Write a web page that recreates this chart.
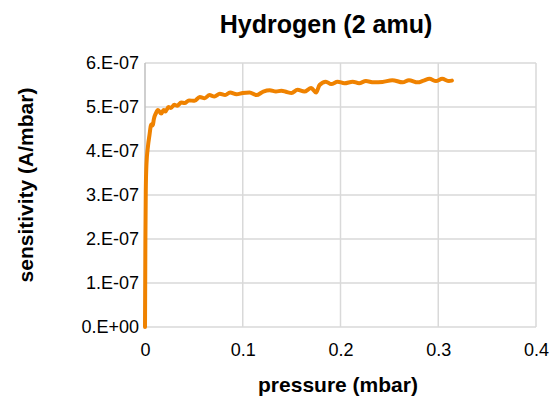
<!DOCTYPE html>
<html>
<head>
<meta charset="utf-8">
<script src="https://cdn.jsdelivr.net/npm/d3@7"></script>
<style>
  body { margin: 0; background: #fff; }
  text { font-family: "Liberation Sans", Arial, sans-serif; fill: #000; }
</style>
</head>
<body>
<div id="container"></div>
<script>
"use strict";

const width = 553;
const height = 399;
const margin = { top: 63, right: 17, bottom: 72, left: 145 };

const lineColor = "#ef8200";
const gridColor = "#d9d9d9";

// pressure (mbar)
const pressure = [
  0, 0.0004, 0.0008, 0.0015, 0.003, 0.0045, 0.0064, 0.008, 0.009, 0.011, 0.0133,
  0.0166, 0.019, 0.021, 0.024, 0.0265, 0.03, 0.033, 0.037, 0.0405, 0.045, 0.0507,
  0.056, 0.061, 0.066, 0.071, 0.0765, 0.082, 0.087, 0.0936, 0.1, 0.107, 0.114,
  0.121, 0.1276, 0.134, 0.1395, 0.145, 0.15, 0.156, 0.163, 0.17, 0.175, 0.1786,
  0.185, 0.1905, 0.197, 0.204, 0.2125, 0.219, 0.226, 0.234, 0.243, 0.253,
  0.2636, 0.27, 0.279, 0.285, 0.291, 0.2977, 0.304, 0.311, 0.314,
];

// sensitivity (A/mbar)
const sensitivity = [
  0, 2.0e-7, 3.1e-7, 3.7e-7, 4.1e-7, 4.35e-7, 4.6e-7, 4.58e-7, 4.72e-7, 4.85e-7, 4.93e-7,
  4.85e-7, 4.93e-7, 4.9e-7, 5.0e-7, 4.98e-7, 5.05e-7, 5.03e-7, 5.1e-7, 5.09e-7, 5.15e-7, 5.14e-7,
  5.23e-7, 5.2e-7, 5.27e-7, 5.24e-7, 5.3e-7, 5.27e-7, 5.33e-7, 5.29e-7, 5.32e-7, 5.33e-7, 5.27e-7,
  5.35e-7, 5.38e-7, 5.35e-7, 5.37e-7, 5.34e-7, 5.32e-7, 5.39e-7, 5.35e-7, 5.43e-7, 5.33e-7, 5.5e-7,
  5.575e-7, 5.52e-7, 5.575e-7, 5.54e-7, 5.575e-7, 5.54e-7, 5.59e-7, 5.56e-7, 5.57e-7, 5.61e-7,
  5.56e-7, 5.61e-7, 5.56e-7, 5.6e-7, 5.64e-7, 5.59e-7, 5.64e-7, 5.59e-7, 5.6e-7,
];

const xTicks = [0, 0.1, 0.2, 0.3, 0.4];
const yTicks = [0, 1e-7, 2e-7, 3e-7, 4e-7, 5e-7, 6e-7];
const yTickLabels = ["0.E+00", "1.E-07", "2.E-07", "3.E-07", "4.E-07", "5.E-07", "6.E-07"];

const data = pressure.map((p, i) => ({ p, s: sensitivity[i] }));

const xScale = d3
  .scaleLinear()
  .domain([0, 0.4])
  .range([margin.left, width - margin.right]);

const yScale = d3
  .scaleLinear()
  .domain([0, 6e-7])
  .range([height - margin.bottom, margin.top]);

const svg = d3
  .select("#container")
  .append("svg")
  .attr("width", width)
  .attr("height", height);

// grid
svg
  .append("g")
  .selectAll("line")
  .data(yTicks)
  .enter()
  .append("line")
  .attr("x1", margin.left)
  .attr("x2", width - margin.right)
  .attr("y1", (d) => yScale(d))
  .attr("y2", (d) => yScale(d))
  .attr("stroke", gridColor)
  .attr("stroke-width", 1.5);

svg
  .append("g")
  .selectAll("line")
  .data(xTicks)
  .enter()
  .append("line")
  .attr("x1", (d) => xScale(d))
  .attr("x2", (d) => xScale(d))
  .attr("y1", margin.top)
  .attr("y2", height - margin.bottom)
  .attr("stroke", (d) => (d === 0 ? "#bfbfbf" : gridColor))
  .attr("stroke-width", 1.5);

// axes (labels only)
const xAxis = d3
  .axisBottom(xScale)
  .tickValues(xTicks)
  .tickFormat((d) => (d === 0 ? "0" : d3.format(".1f")(d)))
  .tickSize(0)
  .tickPadding(16);

const yAxis = d3
  .axisLeft(yScale)
  .tickValues(yTicks)
  .tickFormat((d, i) => yTickLabels[i])
  .tickSize(0)
  .tickPadding(6);

svg
  .append("g")
  .attr("transform", `translate(0, ${height - margin.bottom})`)
  .call(xAxis)
  .call((g) => g.select(".domain").remove())
  .selectAll("text")
  .style("font-size", "18px")
  .style("font-family", "'Liberation Sans', Arial, sans-serif");

svg
  .append("g")
  .attr("transform", `translate(${margin.left}, 0)`)
  .call(yAxis)
  .call((g) => g.select(".domain").remove())
  .selectAll("text")
  .style("font-size", "18px")
  .style("font-family", "'Liberation Sans', Arial, sans-serif");

// the curve
const line = d3
  .line()
  .x((d) => xScale(d.p))
  .y((d) => yScale(d.s))
  .curve(d3.curveMonotoneX);

svg
  .append("path")
  .datum(data)
  .attr("fill", "none")
  .attr("stroke", lineColor)
  .attr("stroke-width", 4)
  .attr("stroke-linejoin", "round")
  .attr("stroke-linecap", "round")
  .attr("d", line);

// titles
svg
  .append("text")
  .attr("x", 326)
  .attr("y", 33)
  .attr("text-anchor", "middle")
  .style("font-size", "25px")
  .style("font-weight", "bold")
  .text("Hydrogen (2 amu)");

svg
  .append("text")
  .attr("x", 338)
  .attr("y", 392)
  .attr("text-anchor", "middle")
  .style("font-size", "21px")
  .style("font-weight", "bold")
  .text("pressure (mbar)");

svg
  .append("text")
  .attr("transform", `translate(33, 185) rotate(-90)`)
  .attr("text-anchor", "middle")
  .style("font-size", "21px")
  .style("font-weight", "bold")
  .text("sensitivity (A/mbar)");
</script>
</body>
</html>
